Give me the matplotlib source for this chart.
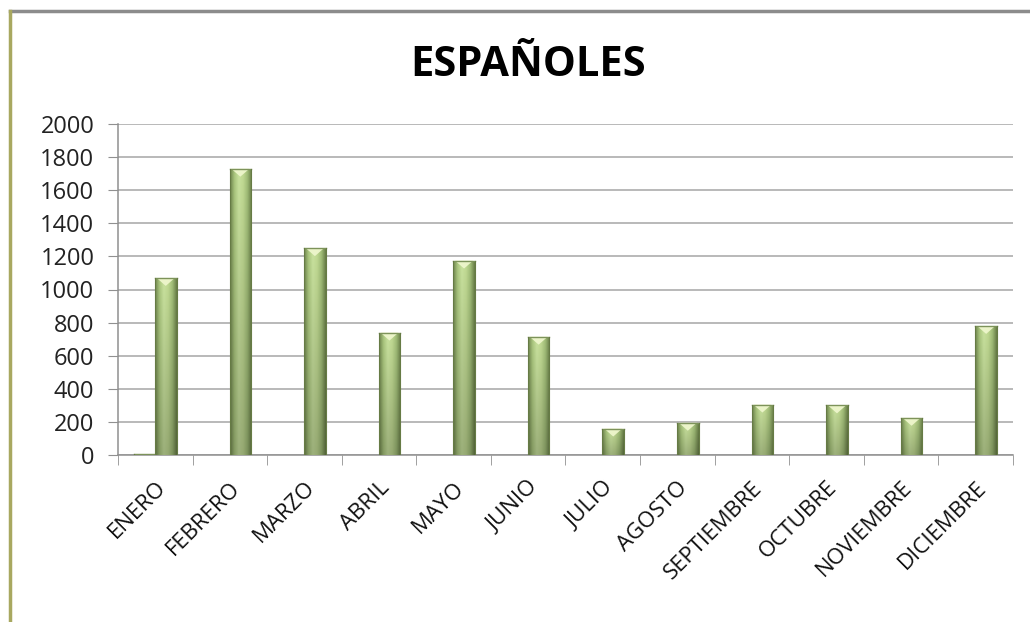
import numpy as np
import matplotlib
matplotlib.use('Agg')
import matplotlib.pyplot as plt
from matplotlib.lines import Line2D
from matplotlib.patches import Polygon
from matplotlib.colors import LinearSegmentedColormap

plt.rcParams['font.family'] = ['Open Sans', 'DejaVu Sans']

meses = ['ENERO', 'FEBRERO', 'MARZO', 'ABRIL', 'MAYO', 'JUNIO', 'JULIO',
         'AGOSTO', 'SEPTIEMBRE', 'OCTUBRE', 'NOVIEMBRE', 'DICIEMBRE']
serie_a = [5, 0, 0, 0, 0, 0, 0, 0, 0, 0, 0, 0]
serie_b = [1070, 1730, 1250, 740, 1175, 715, 160, 195, 305, 300, 225, 780]
yticks = [0, 200, 400, 600, 800, 1000, 1200, 1400, 1600, 1800, 2000]

W, H = 1030, 622
fig = plt.figure(figsize=(W / 100, H / 100), dpi=100)
ax = fig.add_axes([118 / W, 1 - 455 / H, (1013 - 118) / W, (455 - 124) / H])

x = np.arange(len(meses))
bw = 0.29
ax.set_xlim(-0.5, len(meses) - 0.5)
ax.set_ylim(0, 2000)

# gradiente tipo Excel: claro en el centro, bordes oscuros
cmap = LinearSegmentedColormap.from_list(
    'verde', ['#6e844d', '#aac67e', '#c9e29e', '#c0d992', '#a0bc77', '#687d47'])
grad = np.linspace(0, 1, 64)[None, :] * np.ones((64, 1))
dark = np.linspace(1.0, 0.78, 64)[:, None, None]  # mas oscuro abajo

axes_h_px = 455 - 124
tri_h = 2000 * 8 / axes_h_px

def barras(vals, off):
    bars = ax.bar(x + off, vals, width=bw, color='#9ab870', edgecolor='none', zorder=3)
    for b in bars:
        h = b.get_height()
        if h <= 0:
            continue
        x0, w = b.get_x(), b.get_width()
        img = cmap(grad)
        img[..., :3] = img[..., :3] * dark
        im = ax.imshow(img, extent=[x0, x0 + w, 0, h], aspect='auto',
                       origin='upper', zorder=4, interpolation='bilinear')
        im.set_clip_path(b)
        th = min(tri_h, h)
        ax.add_patch(Polygon([[x0 + w * 0.08, h], [x0 + w * 0.92, h], [x0 + w / 2, h - th]],
                             closed=True, facecolor='#eef6cc', edgecolor='none',
                             alpha=0.95, zorder=5))
        ax.plot([x0, x0 + w], [h, h], color='#7d935a', lw=1, zorder=5)
        ax.plot([x0, x0], [0, h], color='#667b45', lw=0.8, zorder=5)
        ax.plot([x0 + w, x0 + w], [0, h], color='#667b45', lw=0.8, zorder=5)

barras(serie_a, -0.14)
barras(serie_b, 0.14)

ax.set_yticks(yticks)
ax.set_yticklabels([str(v) for v in yticks], fontsize=17, color='#222222')
ax.yaxis.grid(True, color='#a6a6a6', linewidth=1.1, zorder=0)
ax.set_axisbelow(True)

ax.set_xticks(x)
ax.set_xticklabels(meses, rotation=45, ha='right', va='top', rotation_mode='anchor',
                   fontsize=16, color='#111111')
ax.set_xticks(np.arange(len(meses) + 1) - 0.5, minor=True)
ax.tick_params(axis='x', which='major', length=0, pad=16)
ax.tick_params(axis='x', which='minor', length=7, color='#909090', direction='out')
ax.tick_params(axis='y', length=7, color='#909090', direction='out', pad=10)

for s in ['top', 'right']:
    ax.spines[s].set_visible(False)
for s in ['left', 'bottom']:
    ax.spines[s].set_color('#909090')
    ax.spines[s].set_linewidth(1.1)

fig.text(528 / W, 1 - 66 / H, 'ESPAÑOLES', ha='center', va='center',
         fontsize=30, fontweight='bold', color='#000000')

# borde del area del grafico (recortado)
fig.add_artist(Line2D([10 / W, 1], [1 - 11 / H, 1 - 11 / H], color='#8c8c8c', lw=2.5))
fig.add_artist(Line2D([10 / W, 10 / W], [0, 1 - 11 / H], color='#a8a860', lw=2.5))

fig.savefig('out.png', dpi=100)
